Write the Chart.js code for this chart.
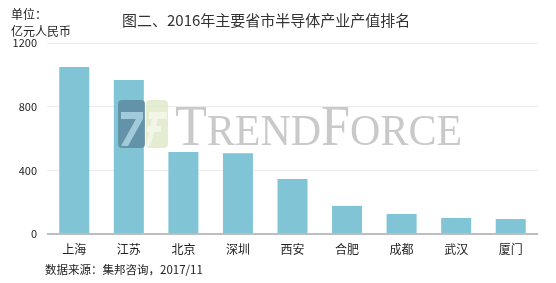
<!DOCTYPE html>
<html>
<head>
<meta charset="utf-8">
<script src="https://cdn.jsdelivr.net/npm/chart.js@4/dist/chart.umd.min.js"></script>
<style>
  html, body { margin: 0; padding: 0; background: #ffffff; }
  canvas { display: block; }
</style>
</head>
<body>
<canvas id="c" width="556" height="283"></canvas>
<script>
// 2016 semiconductor output by province/city, in 100 million RMB
const cities = ['上海', '江苏', '北京', '深圳', '西安', '合肥', '成都', '武汉', '厦门'];
const outputValues = [1050, 968, 515, 507, 346, 177, 126, 101, 94];
const yTicks = [0, 400, 800, 1200];

const titleText = '图二、2016年主要省市半导体产业产值排名';
const unitLines = ['单位：', '亿元人民币'];
const sourceText = '数据来源：集邦咨询，2017/11';

const CJK = '"Noto Sans CJK SC", "Noto Sans", sans-serif';

function roundRect(ctx, x, y, w, h, r) {
  ctx.beginPath();
  ctx.moveTo(x + r, y);
  ctx.lineTo(x + w - r, y);
  ctx.quadraticCurveTo(x + w, y, x + w, y + r);
  ctx.lineTo(x + w, y + h - r);
  ctx.quadraticCurveTo(x + w, y + h, x + w - r, y + h);
  ctx.lineTo(x + r, y + h);
  ctx.quadraticCurveTo(x, y + h, x, y + h - r);
  ctx.lineTo(x, y + r);
  ctx.quadraticCurveTo(x, y, x + r, y);
  ctx.closePath();
}

// Header, unit note, source line and the TrendForce watermark
const decorations = {
  id: 'decorations',
  afterDatasetsDraw(chart) {
    const ctx = chart.ctx;
    ctx.save();

    // watermark logo
    ctx.globalAlpha = 0.85;
    ctx.fillStyle = '#5d8ba0';
    roundRect(ctx, 118, 100, 27, 48, 4);
    ctx.fill();
    ctx.fillStyle = '#dfe9ca';
    roundRect(ctx, 146, 100, 22, 48, 4);
    ctx.fill();
    ctx.globalAlpha = 0.9;
    ctx.fillStyle = '#a8d2df';
    ctx.fillRect(121, 112, 22, 7);
    ctx.beginPath();
    ctx.moveTo(136, 119); ctx.lineTo(143, 119); ctx.lineTo(128, 146); ctx.lineTo(121, 146);
    ctx.closePath(); ctx.fill();
    ctx.fillStyle = '#f3f7ea';
    ctx.fillRect(149, 112, 18, 7);
    ctx.fillRect(147, 126, 14, 6);
    ctx.beginPath();
    ctx.moveTo(152, 119); ctx.lineTo(158, 119); ctx.lineTo(150, 146); ctx.lineTo(146, 146);
    ctx.closePath(); ctx.fill();

    // watermark word mark in small caps
    ctx.globalAlpha = 1;
    ctx.fillStyle = 'rgba(175,175,175,0.68)';
    ctx.textBaseline = 'alphabetic';
    ctx.textAlign = 'left';
    const big = '56px "Liberation Serif", serif';
    const small = '45px "Liberation Serif", serif';
    const parts = [['T', big], ['REND', small], ['F', big], ['ORCE', small]];
    let total = 0;
    parts.forEach(p => { ctx.font = p[1]; total += ctx.measureText(p[0]).width; });
    const sx = 287 / total;
    ctx.save();
    ctx.translate(175, 145);
    ctx.scale(sx, 1);
    let x = 0;
    parts.forEach(p => { ctx.font = p[1]; ctx.fillText(p[0], x, 0); x += ctx.measureText(p[0]).width; });
    ctx.restore();

    // title
    ctx.fillStyle = '#333333';
    ctx.textBaseline = 'middle';
    ctx.font = '15px ' + CJK;
    ctx.fillText(titleText, 122, 20);

    // unit note
    ctx.fillStyle = '#222222';
    ctx.font = '12px ' + CJK;
    ctx.fillText(unitLines[0], 11, 14);
    ctx.fillText(unitLines[1], 11, 31);

    // source line
    ctx.font = '11.5px ' + CJK;
    ctx.fillText(sourceText, 45, 270);

    ctx.restore();
  }
};

new Chart(document.getElementById('c'), {
  type: 'bar',
  data: {
    labels: cities,
    datasets: [{
      data: outputValues,
      backgroundColor: '#80c4d6',
      borderWidth: 0,
      categoryPercentage: 1,
      barPercentage: 0.55
    }]
  },
  options: {
    responsive: false,
    animation: false,
    devicePixelRatio: 1,
    layout: { padding: { left: 0, right: 18, top: 43, bottom: 0 } },
    plugins: { legend: { display: false }, title: { display: false }, tooltip: { enabled: false } },
    scales: {
      x: {
        grid: { display: false, drawTicks: false },
        border: { display: false },
        ticks: { color: '#222222', font: { family: CJK, size: 12 }, padding: 8 },
        afterFit(scale) { scale.height = 49; }
      },
      y: {
        min: 0,
        max: 1200,
        afterBuildTicks(scale) { scale.ticks = yTicks.map(v => ({ value: v })); },
        grid: {
          drawTicks: false,
          color: c => (c.tick && c.tick.value === 0) ? '#bdbdbd' : '#ececec',
          lineWidth: c => (c.tick && c.tick.value === 0) ? 2 : 1
        },
        border: { display: false },
        ticks: {
          color: '#222222',
          font: { family: CJK, size: 11 },
          padding: 10,
          callback: v => String(v)
        },
        afterFit(scale) { scale.width = 47; }
      }
    }
  },
  plugins: [decorations]
});
</script>
</body>
</html>
